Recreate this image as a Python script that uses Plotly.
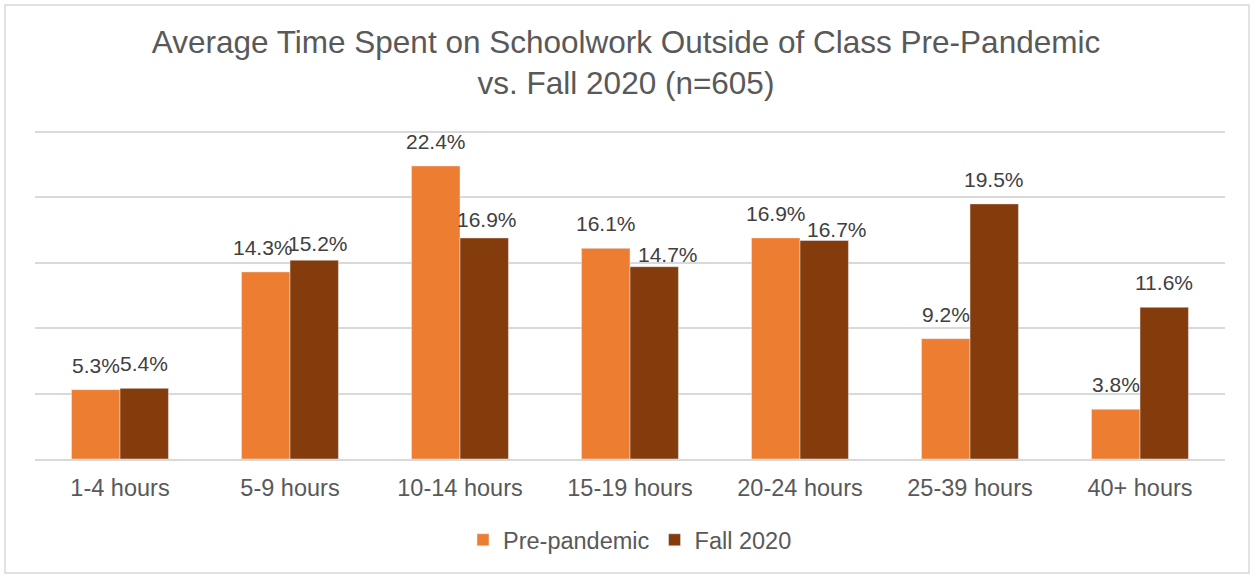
import plotly.graph_objects as go

categories = ["1-4 hours", "5-9 hours", "10-14 hours", "15-19 hours",
              "20-24 hours", "25-39 hours", "40+ hours"]
pre_pandemic = [5.3, 14.3, 22.4, 16.1, 16.9, 9.2, 3.8]
fall_2020 = [5.4, 15.2, 16.9, 14.7, 16.7, 19.5, 11.6]

W, H = 1252, 576
L, R, T, B = 35, 27, 128, 117
pw, ph = W - L - R, H - T - B
BARGAP = 0.43
bar_w = pw / len(categories) * (1 - BARGAP) / 2

# label nudges (px) where Excel moved colliding labels
nudge = {("Pre-pandemic", "5-9 hours"): (-3, 0),
         ("Fall 2020", "5-9 hours"): (4, -8),
         ("Fall 2020", "10-14 hours"): (3, -6),
         ("Fall 2020", "15-19 hours"): (14, -12),
         ("Fall 2020", "20-24 hours"): (13, -13)}

fig = go.Figure()
series = [("Pre-pandemic", pre_pandemic, "#ED7D31", -0.5),
          ("Fall 2020", fall_2020, "#843C0C", 0.5)]
for name, vals, color, side in series:
    fig.add_trace(go.Bar(x=categories, y=vals, name=name, marker_color=color))
    for cat, v in zip(categories, vals):
        dx, dy = nudge.get((name, cat), (0, 0))
        fig.add_annotation(x=cat, y=v, text=f"{v:.1f}%", showarrow=False,
                           xshift=side * bar_w + dx, yanchor="bottom", yshift=11 + dy,
                           font=dict(size=21, color="#404040"))

fig.update_layout(
    width=W, height=H,
    margin=dict(l=L, r=R, t=T, b=B, autoexpand=False),
    paper_bgcolor="white", plot_bgcolor="white",
    font=dict(family="Liberation Sans, Arial, sans-serif", color="#595959"),
    title=dict(
        text="Average Time Spent on Schoolwork Outside of Class Pre-Pandemic<br>vs. Fall 2020 (n=605)",
        x=0.5, xanchor="center", y=1 - 53 / H, yanchor="middle",
        font=dict(size=31.5, color="#595959"),
    ),
    barmode="group", bargap=BARGAP, bargroupgap=0,
    xaxis=dict(tickfont=dict(size=23.5, color="#595959"), showline=True,
               linecolor="#d9d9d9", linewidth=1.5, ticks="",
               ticklabelstandoff=7),
    yaxis=dict(range=[0, 25.3], tickvals=[0, 5, 10, 15, 20, 25],
               showticklabels=False, gridcolor="#d9d9d9", gridwidth=1.5,
               zeroline=False),
    legend=dict(orientation="h", x=0.5, xanchor="center",
                yref="container", y=1 - 540 / H, yanchor="middle",
                font=dict(size=23.5, color="#595959"), itemwidth=30),
    shapes=[dict(type="rect", xref="paper", yref="paper",
                 x0=(5 - L) / pw, x1=(W - 3 - L) / pw,
                 y0=-(H - 3 - (H - B)) / ph, y1=(H - B - 5) / ph,
                 line=dict(color="#d9d9d9", width=1.5), layer="below")],
)

fig.write_html("out.html", config={"displayModeBar": False},
               post_script="document.body.style.margin='0';")
